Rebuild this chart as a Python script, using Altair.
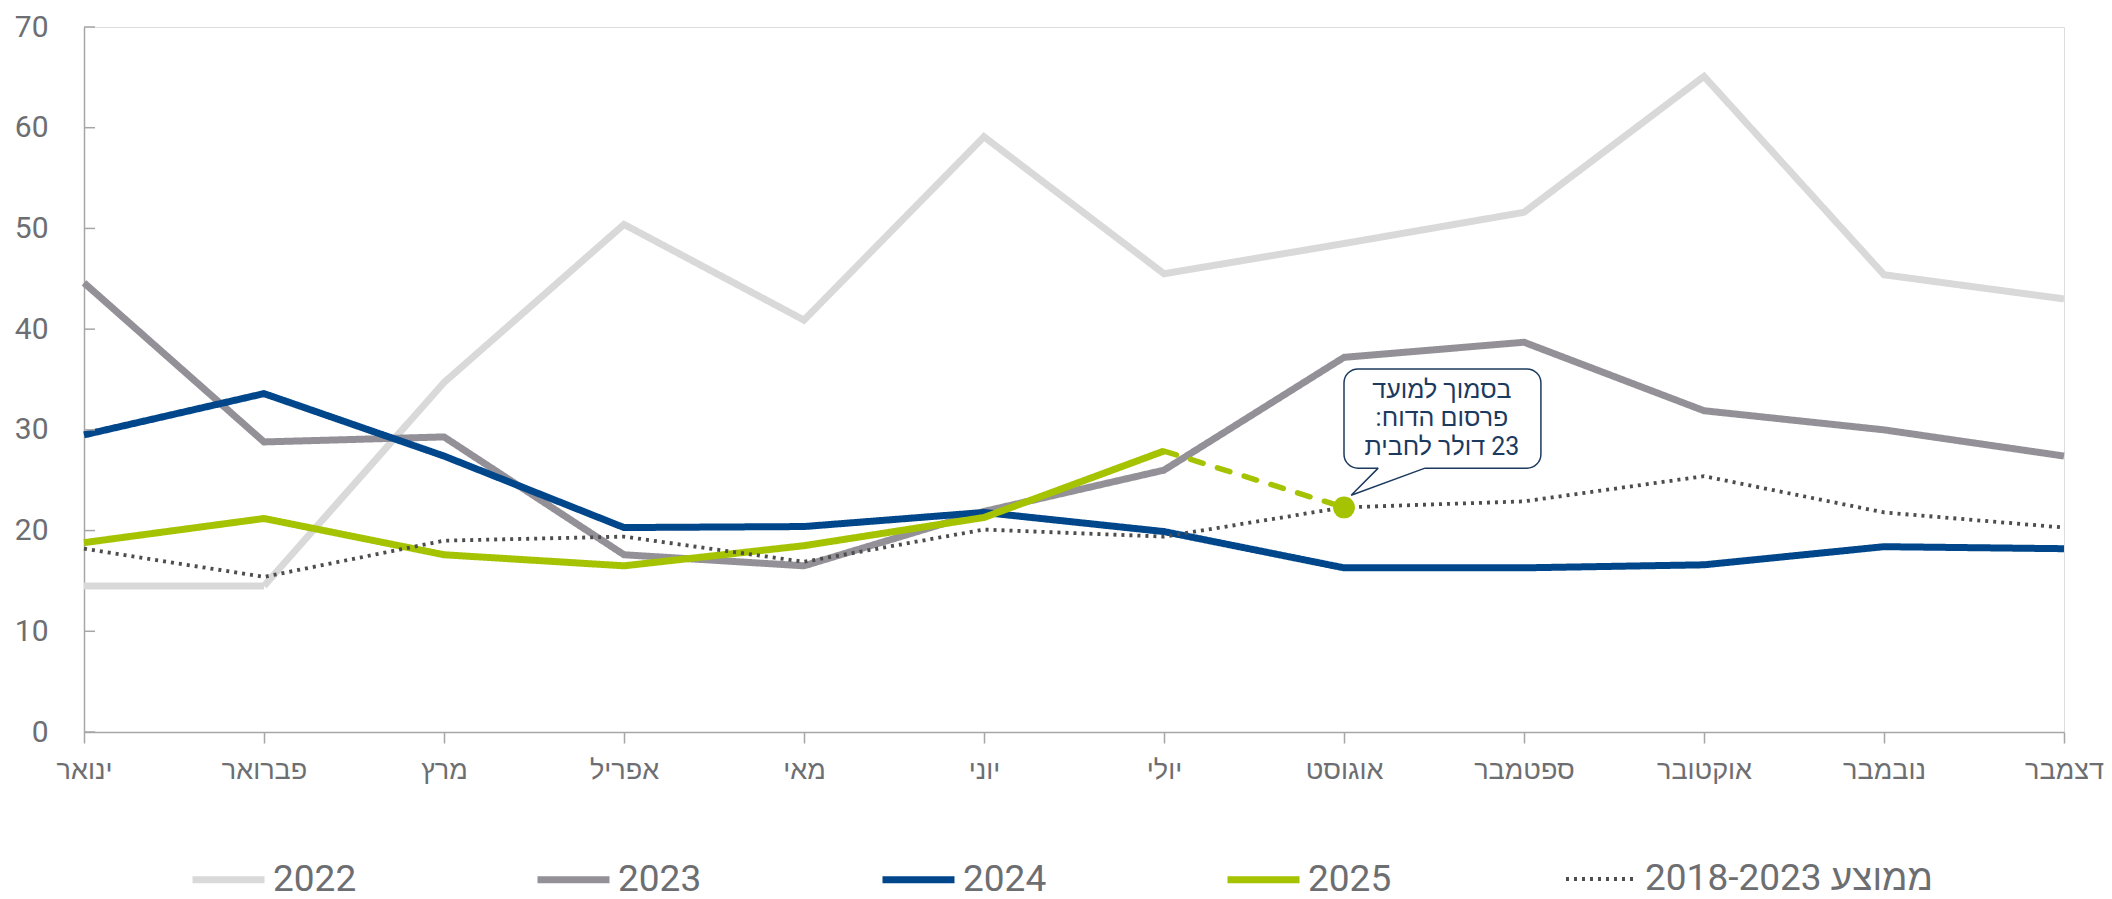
import altair as alt
import pandas as pd

# ---------------- data ----------------
months = ["ינואר", "פברואר", "מרץ", "אפריל", "מאי", "יוני",
          "יולי", "אוגוסט", "ספטמבר", "אוקטובר", "נובמבר", "דצמבר"]
series_names = ["2022", "2023", "2024", "2025", "ממוצע 2018-2023"]

v2022 = [14.5, 14.5, 34.7, 50.4, 40.9, 59.1, 45.5, 48.5, 51.6, 65.1, 45.4, 43.0]
v2023 = [44.6, 28.8, 29.3, 17.6, 16.5, 21.9, 26.0, 37.2, 38.7, 31.9, 30.0, 27.4]
v2024 = [29.5, 33.6, 27.4, 20.3, 20.4, 21.8, 19.9, 16.3, 16.3, 16.6, 18.4, 18.2]
v2025 = [18.8, 21.2, 17.6, 16.5, 18.5, 21.3, 27.9]
v_avg = [18.2, 15.4, 19.0, 19.4, 16.9, 20.1, 19.4, 22.3, 22.9, 25.4, 21.8, 20.3]

# estimate segment (July -> August, near publication date)
est_month = [6, 7]
est_value = [27.9, 22.3]

callout_lines = ["בסמוך למועד", "פרסום הדוח:", "23 דולר לחבית"]
y_ticks = [0, 10, 20, 30, 40, 50, 60, 70]

# callout geometry in data units (month index, value)
box_x = [7.0, 8.094]
box_y = [26.2, 36.05]
ptr_x = [7.19, 7.04, 7.45]
ptr_y = [26.2, 23.5, 26.2]
text_x = 7.544
text_y = [34.0, 31.2, 28.3]

# ---------------- styles ----------------
colors = ["#d9d9d9", "#939197", "#00468b", "#a5c300", "#4d4d4d"]
dashes = [[1, 0], [1, 0], [1, 0], [1, 0], [3, 5]]
widths = [7, 7, 7, 7, 3.8]
navy_text = "#1c3a5e"
axis_grey = "#a6a6a6"
label_grey = "#6d6e71"
FONT = "Roboto, 'Liberation Sans', 'DejaVu Sans', sans-serif"

# ---------------- table ----------------
rows = []
for name, vals in zip(series_names, [v2022, v2023, v2024, v2025, v_avg]):
    for i, v in enumerate(vals):
        rows.append({"series": name, "m": i, "value": v})
df = pd.DataFrame(rows)

est_df = pd.DataFrame({"m": est_month, "value": est_value})
pt_df = est_df.tail(1)
box_df = pd.DataFrame({"x": [box_x[0]], "x2": [box_x[1]], "y": [box_y[0]], "y2": [box_y[1]]})
ptr_df = pd.DataFrame({"x": ptr_x, "y": ptr_y, "o": [0, 1, 2]})
cover_df = pd.DataFrame({"x": [ptr_x[0]], "x2": [ptr_x[2]], "y": [ptr_y[0]]})
# right-to-left isolate so the Hebrew callout reads in its natural order
text_df = pd.DataFrame({"x": [text_x] * len(callout_lines), "y": text_y,
                        "t": ["\u2067" + s + "\u2069" for s in callout_lines]})
tick_df = pd.DataFrame({"v": y_ticks})

label_expr = "[" + ",".join("'" + m + "'" for m in months) + "][datum.value]"

x_scale = alt.Scale(domain=[0, 11], nice=False, zero=False)
y_scale = alt.Scale(domain=[0, 70], nice=False)

x_enc = alt.X("m:Q", scale=x_scale, title=None,
              axis=alt.Axis(values=list(range(12)), labelExpr=label_expr, grid=False,
                            tickSize=11, tickColor=axis_grey, tickWidth=1.5,
                            domainColor=axis_grey, domainWidth=1.5,
                            labelFontSize=27, labelColor=label_grey, labelFont=FONT,
                            labelPadding=14, labelFlush=False))
y_enc = alt.Y("value:Q", scale=y_scale, title=None,
              axis=alt.Axis(values=y_ticks, ticks=False, grid=False,
                            domainColor=axis_grey, domainWidth=1.5,
                            labelFontSize=30, labelColor=label_grey, labelFont=FONT,
                            labelPadding=36))

legend = alt.Legend(title=None, orient="none", legendX=105, legendY=813,
                    direction="horizontal", symbolType="stroke", symbolSize=5184,
                    labelFontSize=37, labelColor=label_grey, labelFont=FONT,
                    labelLimit=600, labelOffset=5, columnPadding=166, padding=0)

lines = alt.Chart(df).mark_line().encode(
    x=x_enc,
    y=y_enc,
    color=alt.Color("series:N", scale=alt.Scale(domain=series_names, range=colors), legend=legend),
    strokeDash=alt.StrokeDash("series:N", scale=alt.Scale(type="ordinal", domain=series_names, range=dashes), legend=legend),
    strokeWidth=alt.StrokeWidth("series:N", scale=alt.Scale(type="ordinal", domain=series_names, range=widths), legend=legend),
    order=alt.Order("m:Q"),
)

yticks = alt.Chart(tick_df).mark_rule(color=axis_grey, strokeWidth=1.5).encode(
    y=alt.Y("v:Q", scale=y_scale),
    x=alt.value(0), x2=alt.value(11),
)

est_line = alt.Chart(est_df).mark_line(color=colors[3], strokeWidth=5.5, strokeDash=[13, 15],
                                       strokeCap="round").encode(
    x=alt.X("m:Q", scale=x_scale), y=alt.Y("value:Q", scale=y_scale))

est_pt = alt.Chart(pt_df).mark_point(filled=True, size=480, color=colors[3], opacity=1).encode(
    x=alt.X("m:Q", scale=x_scale), y=alt.Y("value:Q", scale=y_scale))

box = alt.Chart(box_df).mark_rect(fill="white", stroke=navy_text, strokeWidth=1.5,
                                  cornerRadius=14).encode(
    x=alt.X("x:Q", scale=x_scale), x2="x2:Q",
    y=alt.Y("y:Q", scale=y_scale), y2="y2:Q")

cover = alt.Chart(cover_df).mark_rule(color="white", strokeWidth=3).encode(
    x=alt.X("x:Q", scale=x_scale), x2="x2:Q", y=alt.Y("y:Q", scale=y_scale))

pointer = alt.Chart(ptr_df).mark_line(color=navy_text, strokeWidth=1.5).encode(
    x=alt.X("x:Q", scale=x_scale), y=alt.Y("y:Q", scale=y_scale), order="o:Q")

text = alt.Chart(text_df).mark_text(align="center", baseline="middle",
                                    fontSize=25, color=navy_text, font=FONT).encode(
    x=alt.X("x:Q", scale=x_scale), y=alt.Y("y:Q", scale=y_scale), text="t:N")

chart = alt.layer(lines, yticks, est_line, est_pt, box, cover, pointer, text).properties(
    width=1980, height=705,
    padding={"left": 84, "top": 27, "right": 48, "bottom": 167},
    autosize=alt.AutoSizeParams(type="none"),
).configure_view(stroke=None).configure(background="white")

chart.save("out.html", embed_options={"renderer": "svg", "actions": False})
